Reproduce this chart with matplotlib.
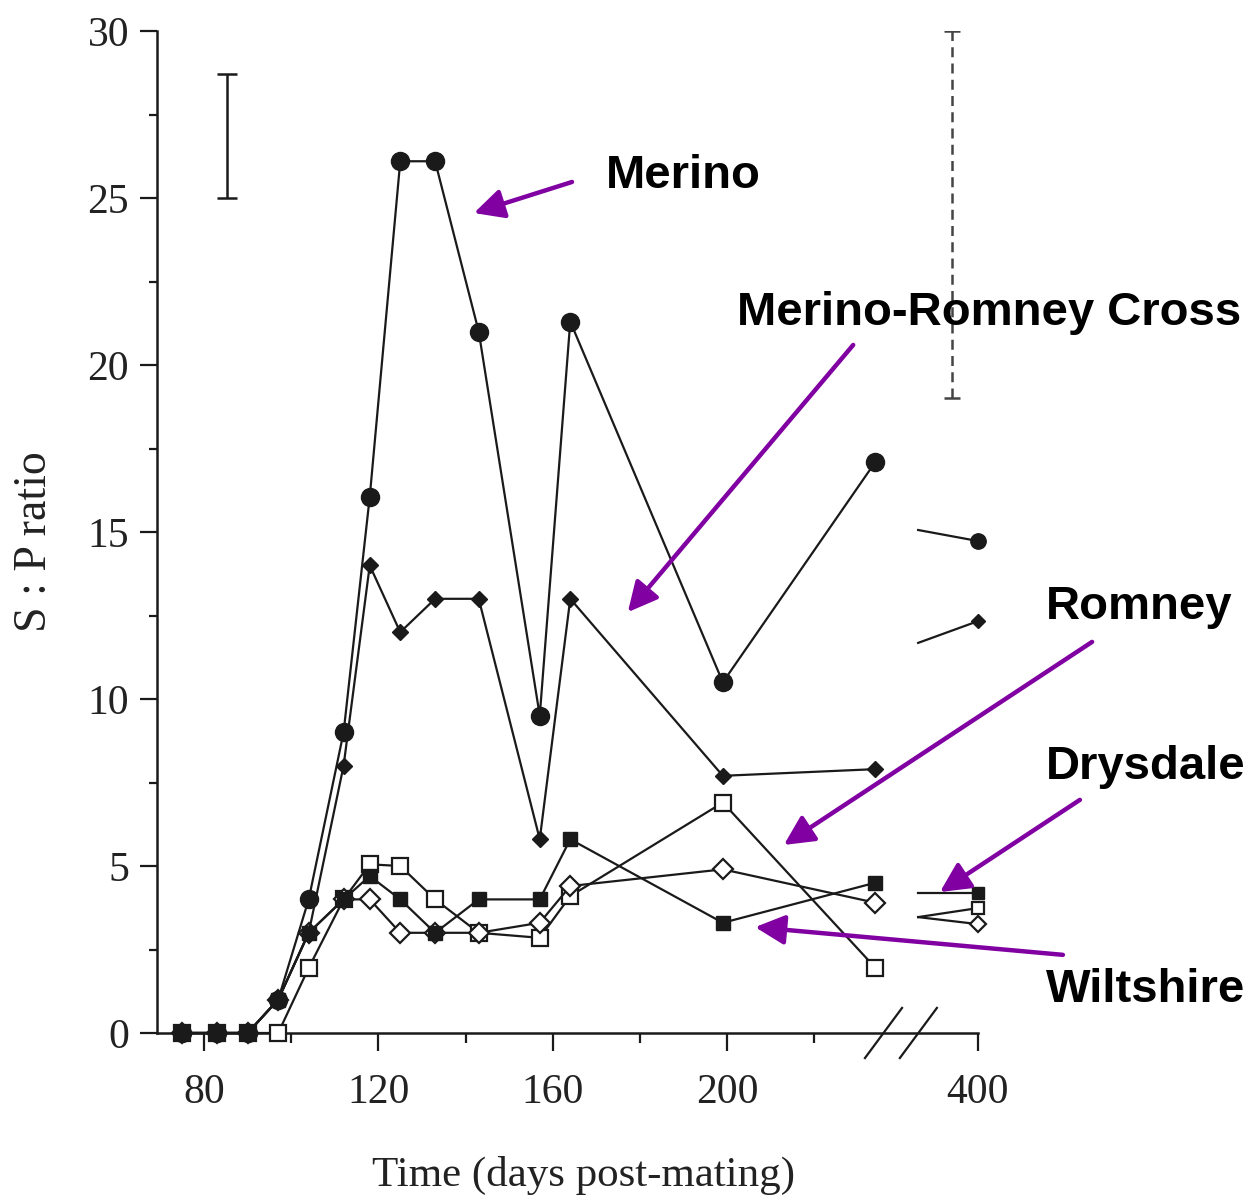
import matplotlib
matplotlib.use("Agg")
import matplotlib.pyplot as plt

# sampling days (the last group is plotted after the axis break, at day 400)
days = [75, 83, 90, 97, 104, 112, 118, 125, 133, 143, 157, 164, 199, 234]

merino = [0, 0, 0, 1, 4, 9, 16.05, 26.1, 26.1, 21.0, 9.5, 21.3, 10.5, 17.1]
cross = [0, 0, 0, 1, 3, 8, 14, 12, 13, 13, 5.8, 13, 7.7, 7.9]
romney = [0, 0, 0, 0, 1.95, 4, 5.05, 5.0, 4.0, 3.0, 2.85, 4.1, 6.9, 1.95]
drysdale = [0, 0, 0, 1, 3, 4, 4.7, 4, 3, 4, 4, 5.8, 3.3, 4.5]
wiltshire = [0, 0, 0, 1, 3, 4, 4, 3, 3, 3, 3.3, 4.4, 4.9, 3.9]

# values at day 400, and where the line re-enters after the break
day400 = {"merino": 14.73, "cross": 12.33, "romney": 3.74, "drysdale": 4.19, "wiltshire": 3.26}
reentry = {"merino": 15.06, "cross": 11.68, "romney": 3.47, "drysdale": 4.19, "wiltshire": 3.47}

x_ticks = [80, 120, 160, 200]
x_minor = [100, 140, 180, 220]
y_ticks = [0, 5, 10, 15, 20, 25, 30]

X400 = 257.5      # plot position of day 400
XREENTRY = 243.8  # plot position where the post-break lines start

LINE = "#1a1a1a"
PURPLE = "#8000a2"
SERIF = "Liberation Serif"
SANS = "Liberation Sans"

fig = plt.figure(figsize=(12.56, 12.04), dpi=100)
ax = fig.add_axes([157 / 1256, 171 / 1204, 1099 / 1256, 1002 / 1204])

styles = [
    ("romney", romney, dict(marker="s", ms=11, mfc="white", mec=LINE, mew=1.6)),
    ("wiltshire", wiltshire, dict(marker="D", ms=10, mfc="white", mec=LINE, mew=1.6)),
    ("drysdale", drysdale, dict(marker="s", ms=10, mfc=LINE, mec=LINE)),
    ("cross", cross, dict(marker="D", ms=8, mfc=LINE, mec=LINE)),
    ("merino", merino, dict(marker="o", ms=13, mfc=LINE, mec=LINE)),
]

for z, (name, vals, mk) in enumerate(styles):
    ax.plot(days, vals, color=LINE, lw=1.6, zorder=3 + z, clip_on=False, **mk)
    ax.plot([XREENTRY, X400], [reentry[name], day400[name]], color=LINE, lw=1.6,
            zorder=3 + z, clip_on=False)
    ax.plot([X400], [day400[name]], color=LINE, zorder=3 + z, clip_on=False,
            **dict(mk, ms=mk["ms"] * 0.85))

# error bars
eb = ax.errorbar([85.3], [26.85], yerr=[1.85], color=LINE, lw=1.8, capsize=7, capthick=1.8)
eb2 = ax.errorbar([251.6], [24.5], yerr=[5.5], color="#444444", lw=1.8, capsize=6, capthick=1.8)
eb2[2][0].set_linestyle((0, (4, 2.5)))

ax.set_xlim(69.2, 321.3)
ax.set_ylim(0, 30)

for s in ["top", "right"]:
    ax.spines[s].set_visible(False)
ax.spines["bottom"].set_bounds(69.2, X400)
ax.spines["left"].set_bounds(0, 30)
for s in ["bottom", "left"]:
    ax.spines[s].set_linewidth(1.8)
    ax.spines[s].set_color(LINE)

ax.set_xticks(x_ticks + [X400])
ax.set_xticklabels([str(t) for t in x_ticks] + ["400"])
ax.set_xticks(x_minor, minor=True)
ax.set_yticks(y_ticks)
ax.set_yticklabels([str(t) for t in y_ticks])
ax.set_yticks([2.5 + 5 * i for i in range(6)], minor=True)

ax.tick_params(axis="both", which="both", direction="out", color=LINE, width=1.6)
ax.tick_params(axis="y", which="major", length=12, pad=8)
ax.tick_params(axis="y", which="minor", length=6)
ax.tick_params(axis="x", which="major", length=13, pad=16)
ax.tick_params(axis="x", which="minor", length=7)
for lab in ax.get_xticklabels() + ax.get_yticklabels():
    lab.set_fontfamily(SERIF)
    lab.set_fontsize(30)
    lab.set_color("#222222")

# axis break marks
for x0 in [231.6, 239.6]:
    ax.plot([x0, x0 + 8.5], [-0.75, 0.75], color=LINE, lw=1.6, clip_on=False, zorder=10)

fig.text(583 / 1256, 1 - 1175 / 1204, "Time (days post-mating)", family=SERIF,
         fontsize=31, ha="center", va="center", color="#222222")
fig.text(35 / 1256, 1 - 542 / 1204, "S : P ratio", family=SERIF, fontsize=33,
         rotation=90, ha="center", va="center", color="#222222")

# annotations
labels = [
    ("Merino", (172.2, 25.66), (164.4, 25.48), (141.9, 24.55)),
    ("Merino-Romney Cross", (202.2, 21.56), (228.9, 20.6), (177.2, 12.6)),
    ("Romney", (273.1, 12.75), (283.7, 11.71), (213.0, 5.63)),
    ("Drysdale", (273.1, 7.96), (280.9, 6.98), (248.8, 4.22)),
    ("Wiltshire", (273.1, 1.29), (277.0, 2.34), (206.4, 3.17)),
]
for text, tpos, tail, head in labels:
    ax.text(tpos[0], tpos[1], text, family=SANS, fontweight="bold", fontsize=34,
            ha="left", va="center", color="black", clip_on=False, zorder=12)
    ax.annotate("", xy=head, xytext=tail,
                arrowprops=dict(arrowstyle="-|>,head_length=0.9,head_width=0.45",
                                mutation_scale=20, lw=3.2, color=PURPLE,
                                shrinkA=0, shrinkB=0),
                annotation_clip=False, zorder=11)

fig.savefig("out.png", dpi=100)
